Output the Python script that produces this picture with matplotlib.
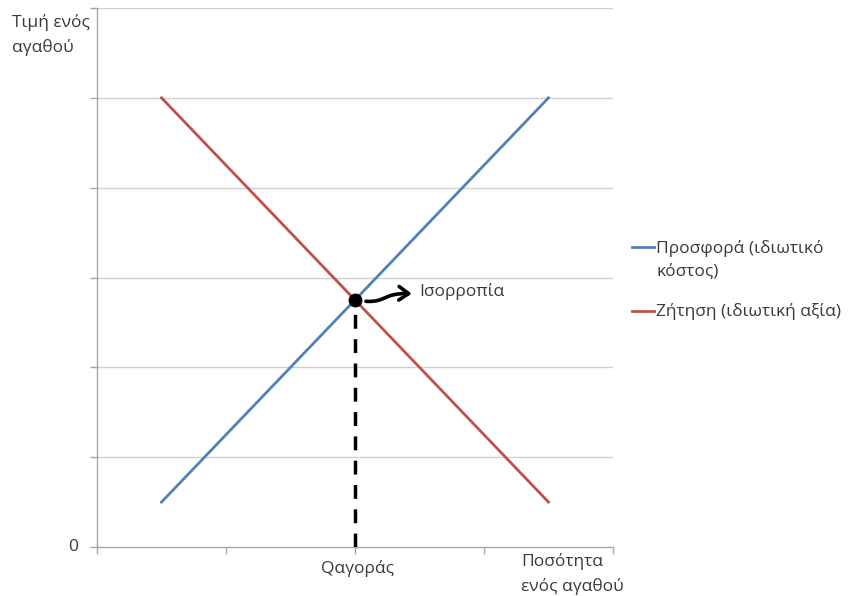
import matplotlib
matplotlib.use("Agg")
import matplotlib.pyplot as plt
from matplotlib.patches import FancyArrowPatch
from matplotlib.path import Path
from matplotlib.lines import Line2D

plt.rcParams['font.family'] = ['Open Sans', 'DejaVu Sans']

# data
x_pts = [0.5, 1.5, 2.5, 3.5]
supply = [0.5, 2.0, 3.5, 5.0]
demand = [5.0, 3.5, 2.0, 0.5]
eq_x, eq_y = 2.0, 2.75
supply_label = "Προσφορά (ιδιωτικό\nκόστος)"
demand_label = "Ζήτηση (ιδιωτική αξία)"
y_label = "Τιμή ενός\nαγαθού"
x_label = "Ποσότητα\nενός αγαθού"
q_label = "Qαγοράς"
eq_label = "Ισορροπία"

blue = '#4F81BD'
red = '#C0504D'
grid_c = '#D0D0D0'
axis_c = '#A6A6A6'
txt_c = '#3A3A3A'
FS = 12.5
LS = 1.55

fig = plt.figure(figsize=(8.6, 5.96), dpi=100)
ax = fig.add_axes([97/860, 1-547/596, 516/860, 539/596])
ax.set_xlim(0, 4)
ax.set_ylim(0, 6)

for y in range(1, 7):
    ax.axhline(y, color=grid_c, lw=1.0, zorder=0)

ax.plot(x_pts, supply, color=blue, lw=2.0, zorder=2)
ax.plot(x_pts, demand, color=red, lw=2.0, zorder=2)

ax.plot([eq_x, eq_x], [0, eq_y], color='black', lw=2.5, ls=(0, (4, 3)), zorder=3)
ax.plot([eq_x], [eq_y], 'o', color='black', ms=9, zorder=4)

verts = [(2.085, 2.735), (2.24, 2.72), (2.22, 2.83), (2.44, 2.82)]
path = Path(verts, [Path.MOVETO, Path.CURVE4, Path.CURVE4, Path.CURVE4])
arr = FancyArrowPatch(path=path, arrowstyle='->,head_length=0.5,head_width=0.35',
                      mutation_scale=14, color='black', lw=2.6, zorder=4,
                      capstyle='round', joinstyle='round')
ax.add_patch(arr)
ax.text(2.5, 2.84, eq_label, fontsize=FS, color=txt_c, va='center', ha='left')

for s in ['top', 'right']:
    ax.spines[s].set_visible(False)
for s in ['left', 'bottom']:
    ax.spines[s].set_color(axis_c)
    ax.spines[s].set_linewidth(1.0)

ax.set_xticks([0, 1, 2, 3, 4])
ax.set_xticklabels([])
ax.set_yticks([0, 1, 2, 3, 4, 5, 6])
ax.set_yticklabels([])
ax.tick_params(axis='both', direction='out', length=5, color=axis_c, width=1)

fig.text(68/860, 1-547/596, "0", fontsize=FS, color=txt_c, ha='left', va='center')
ax.text(eq_x + 0.02, -0.15, q_label, fontsize=FS, color=txt_c, ha='center', va='top')
fig.text(521/860, 1-574/596, x_label, fontsize=FS, color=txt_c, ha='left', va='center',
         linespacing=LS)
fig.text(12/860, 1-35/596, y_label, fontsize=FS, color=txt_c, ha='left', va='center',
         linespacing=LS)

# legend
fig.add_artist(Line2D([632/860, 654/860], [1-247/596, 1-247/596], color=blue, lw=2))
fig.add_artist(Line2D([632/860, 654/860], [1-311/596, 1-311/596], color=red, lw=2))
fig.text(656/860, 1-260/596, supply_label, fontsize=FS, color=txt_c, ha='left', va='center',
         linespacing=LS)
fig.text(656/860, 1-311/596, demand_label, fontsize=FS, color=txt_c, ha='left', va='center')

fig.savefig('out.png', dpi=100)
